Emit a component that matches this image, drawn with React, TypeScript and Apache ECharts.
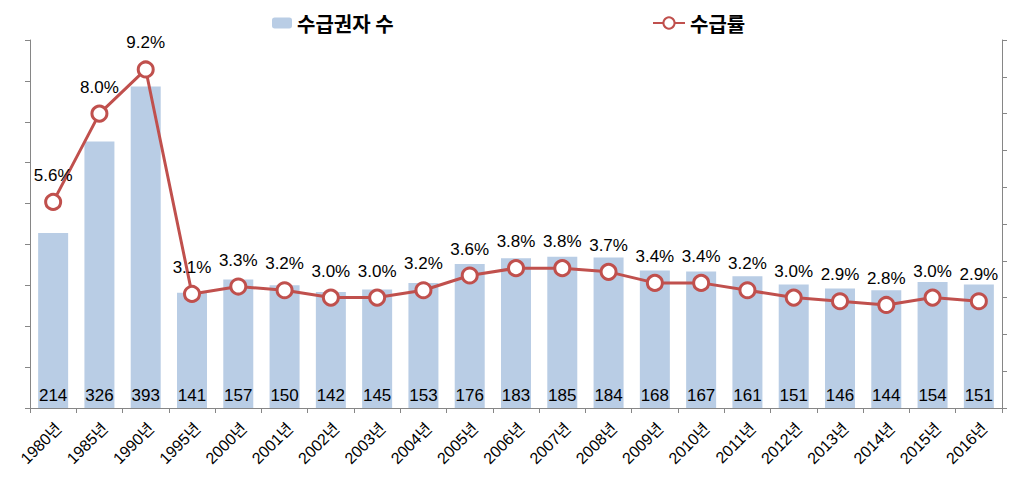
import React, { useEffect, useRef } from "react";
import * as echarts from "echarts";

const categories = ["1980년","1985년","1990년","1995년","2000년","2001년","2002년","2003년","2004년","2005년","2006년","2007년","2008년","2009년","2010년","2011년","2012년","2013년","2014년","2015년","2016년"];
const recipients = [214, 326, 393, 141, 157, 150, 142, 145, 153, 176, 183, 185, 184, 168, 167, 161, 151, 146, 144, 154, 151];
const rates = [5.6, 8.0, 9.2, 3.1, 3.3, 3.2, 3.0, 3.0, 3.2, 3.6, 3.8, 3.8, 3.7, 3.4, 3.4, 3.2, 3.0, 2.9, 2.8, 3.0, 2.9];

const FONT = "'Liberation Sans', Arial, 'Noto Sans CJK KR', sans-serif";
const KFONT = "'Noto Sans CJK KR', 'Liberation Sans', sans-serif";

export default function App() {
  const ref = useRef<HTMLDivElement>(null);
  useEffect(() => {
    document.body.style.margin = "0";
    const chart = echarts.init(ref.current!, null, { renderer: "svg" });
    const axisColor = "#868686";
    chart.setOption({
      animation: false,
      legend: [
        {
          data: ["수급권자 수"],
          left: 267,
          top: 8,
          itemWidth: 20,
          itemHeight: 11,
          itemGap: 4,
          textStyle: { fontSize: 20, fontWeight: "bold", color: "#000", fontFamily: KFONT },
        },
        {
          data: ["수급률"],
          left: 647,
          top: 8,
          itemWidth: 32,
          itemHeight: 14,
          textStyle: { fontSize: 20, fontWeight: "bold", color: "#000", fontFamily: KFONT },
        },
      ],
      grid: { left: 30, right: 22, top: 40, bottom: 71, containLabel: false },
      xAxis: {
        type: "category",
        data: categories,
        axisLine: { lineStyle: { color: axisColor } },
        axisTick: { show: true, alignWithLabel: false, length: 5, lineStyle: { color: axisColor } },
        axisLabel: {
          rotate: 45,
          fontSize: 16,
          color: "#000",
          fontFamily: FONT,
          margin: 12,
          align: "right",
          verticalAlign: "top",
        },
      },
      yAxis: [
        {
          type: "value",
          min: 0,
          max: 450,
          interval: 50,
          axisLine: { show: true, lineStyle: { color: axisColor } },
          axisTick: { show: true, length: 5, lineStyle: { color: axisColor } },
          axisLabel: { show: false },
          splitLine: { show: false },
        },
        {
          type: "value",
          min: 0,
          max: 10,
          interval: 1,
          position: "right",
          axisLine: { show: true, lineStyle: { color: axisColor } },
          axisTick: { show: true, length: 5, lineStyle: { color: axisColor } },
          axisLabel: { show: false },
          splitLine: { show: false },
        },
      ],
      series: [
        {
          name: "수급권자 수",
          type: "bar",
          data: recipients,
          yAxisIndex: 0,
          barWidth: 30,
          itemStyle: { color: "#b9cde5" },
          label: {
            show: true,
            position: "insideBottom",
            distance: 4,
            fontSize: 17,
            color: "#000",
            fontFamily: FONT,
          },
        },
        {
          name: "수급률",
          type: "line",
          data: rates,
          yAxisIndex: 1,
          symbol: "circle",
          symbolSize: 15,
          lineStyle: { color: "#c0504d", width: 3 },
          itemStyle: { color: "#ffffff", borderColor: "#c0504d", borderWidth: 3 },
          label: {
            show: true,
            position: "top",
            distance: 9,
            fontSize: 17,
            color: "#000",
            fontFamily: FONT,
            formatter: (p: any) => p.value.toFixed(1) + "%",
          },
          z: 5,
        },
      ],
    });
    return () => chart.dispose();
  }, []);
  return <div ref={ref} style={{ width: 1024, height: 479 }} />;
}
